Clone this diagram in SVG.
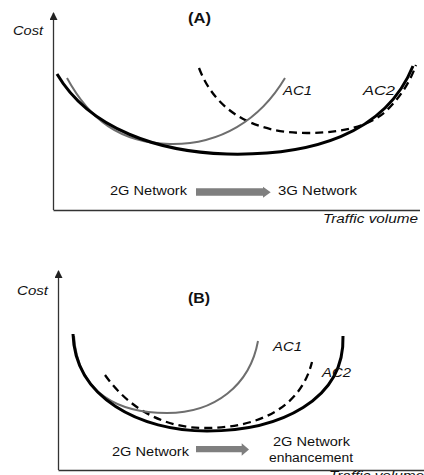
<svg xmlns="http://www.w3.org/2000/svg" width="424" height="475" viewBox="0 0 424 475">
<defs>
<marker id="ah" markerWidth="8" markerHeight="8" refX="7" refY="4" orient="auto" markerUnits="userSpaceOnUse" viewBox="0 0 8 8">
<path d="M0,0 L8,4 L0,8 Z" fill="#222"/>
</marker>
<style>
.t{font-family:"Liberation Sans",Arial,sans-serif;font-size:12px;fill:#111}
.i{font-style:italic}
.b{font-weight:bold;font-size:14px}
.ax{stroke:#333;stroke-width:1.3;fill:none}
.k{stroke:#000;stroke-width:3;fill:none}
.g{stroke:#6e6e6e;stroke-width:2;fill:none}
.d{stroke:#000;stroke-width:2.3;fill:none;stroke-dasharray:8 5}
.ar{fill:#7f7f7f}
</style>
</defs>
<rect width="424" height="475" fill="#fff"/>

<g id="panelA">
<g id="axesA">
<path class="ax" d="M53.5,210 V13" marker-end="url(#ah)"/>
<path class="ax" d="M53.5,210.5 H420"/>
</g>
<g id="connectorsA">
<path id="A-AC2" class="d" d="M199,68 C215,110 252,133 307,133 C345,133 370,125 385,112 C400,98 410,82 416,65"/>
<path id="A-AC1" class="g" d="M67,78 C90,120 120,143 170,144 C220,145 260,120 285,78"/>
<path id="A-env" class="k" d="M57,74 C90,130 160,152 227,154 C310,156 385,135 413,66"/>
<path id="A-arrow" class="ar" d="M196,188.3 H263 V186.7 L270.7,192.2 L263,197.7 V195.7 H196 Z"/>
</g>
<text class="t i" x="13" y="35" textLength="30" lengthAdjust="spacingAndGlyphs">Cost</text>
<text class="t b" x="188" y="23" textLength="23" lengthAdjust="spacingAndGlyphs">(A)</text>
<text class="t i" x="283" y="95" textLength="29" lengthAdjust="spacingAndGlyphs">AC1</text>
<text class="t i" x="363" y="95" textLength="32" lengthAdjust="spacingAndGlyphs">AC2</text>
<text class="t" x="110" y="195" textLength="77" lengthAdjust="spacingAndGlyphs">2G Network</text>
<text class="t" x="278" y="195" textLength="79" lengthAdjust="spacingAndGlyphs">3G Network</text>
<text class="t i" x="323" y="223" textLength="95" lengthAdjust="spacingAndGlyphs">Traffic volume</text>
</g>

<g id="panelB">
<g id="axesB">
<path class="ax" d="M58.5,470 V271" marker-end="url(#ah)"/>
<path class="ax" d="M58.5,470.5 H424"/>
</g>
<g id="connectorsB">
<path id="B-AC2" class="d" d="M105,375 C130,410 165,428 205,428 C255,428 300,410 312,362"/>
<path id="B-AC1" class="g" d="M74,336 C78,395 120,413 167,413 C215,413 250,385 258,341"/>
<path id="B-env" class="k" d="M73,334 C75,398 140,431 207,431 C280,431 345,400 343,336"/>
<path id="B-arrow" class="ar" d="M196,446 H241.7 V443.3 L249,449.5 L241.7,455.7 V452.3 H196 Z"/>
</g>
<text class="t i" x="17" y="295" textLength="31" lengthAdjust="spacingAndGlyphs">Cost</text>
<text class="t b" x="188" y="303" textLength="22" lengthAdjust="spacingAndGlyphs">(B)</text>
<text class="t i" x="273" y="351" textLength="29" lengthAdjust="spacingAndGlyphs">AC1</text>
<text class="t i" x="322" y="377" textLength="29" lengthAdjust="spacingAndGlyphs">AC2</text>
<text class="t" x="112" y="456" textLength="77" lengthAdjust="spacingAndGlyphs">2G Network</text>
<text class="t" x="273" y="446" textLength="77" lengthAdjust="spacingAndGlyphs">2G Network</text>
<text class="t" x="269" y="462" textLength="84" lengthAdjust="spacingAndGlyphs">enhancement</text>
<text class="t i" x="329" y="480" textLength="95" lengthAdjust="spacingAndGlyphs">Traffic volume</text>
</g>
</svg>
